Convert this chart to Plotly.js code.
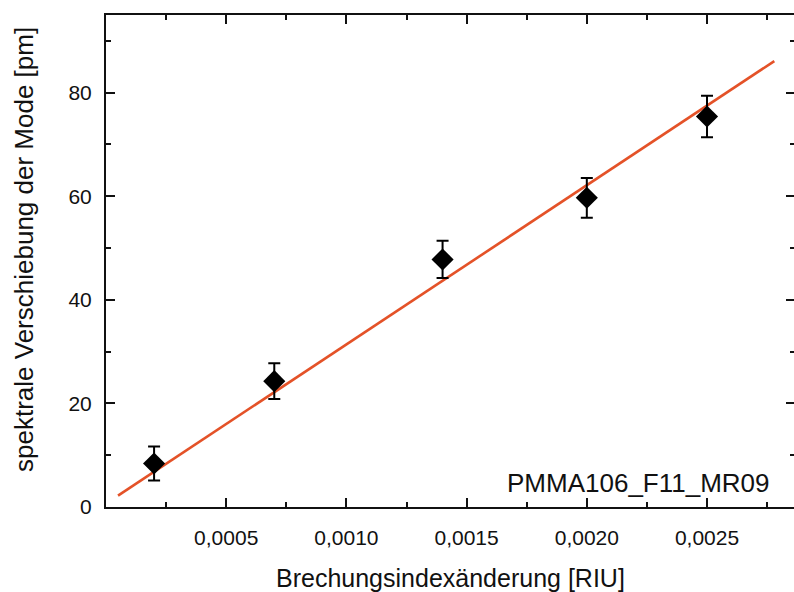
<!DOCTYPE html>
<html>
<head>
<meta charset="utf-8">
<script src="https://cdn.plot.ly/plotly-3.0.1.min.js"></script>
<style>
  html, body { margin: 0; padding: 0; background: #ffffff; overflow: hidden; }
  #chart { width: 797px; height: 592px; }
</style>
</head>
<body>
<div id="chart"></div>
<script>
// Measured mode shift versus refractive index change
const deltaN   = [0.0002, 0.0007, 0.0014, 0.0020, 0.0025];
const shiftPm  = [8.4, 24.3, 47.8, 59.7, 75.4];
const shiftErr = [3.3, 3.45, 3.6, 3.85, 4.0];

// Linear fit, drawn between its two end points
const fitX = [0.00005, 0.00278];
const fitY = [2.2, 86.1];

const xTickVals = [0.0005, 0.0010, 0.0015, 0.0020, 0.0025];
const xTickText = ['0,0005', '0,0010', '0,0015', '0,0020', '0,0025'];
const yTickVals = [0, 20, 40, 60, 80];
const yTickText = ['0', '20', '40', '60', '80'];

const sampleLabel = 'PMMA106_F11_MR09';
const xTitle = 'Brechungsindexänderung [RIU]';
const yTitle = 'spektrale Verschiebung der Mode [pm]';

const font = 'Liberation Sans, Arial, Helvetica, sans-serif';
const ink = '#111111';

const traces = [
  {
    x: fitX, y: fitY,
    type: 'scatter', mode: 'lines',
    line: { color: 'rgb(228,82,40)', width: 2.6 },
    hoverinfo: 'skip', showlegend: false
  },
  {
    x: deltaN, y: shiftPm,
    type: 'scatter', mode: 'markers',
    marker: { symbol: 'diamond', size: 17, color: '#000000' },
    error_y: { type: 'data', array: shiftErr, visible: true,
               color: '#000000', thickness: 2, width: 6 },
    showlegend: false
  }
];

const axisCommon = {
  showgrid: false, zeroline: false,
  showline: true, linecolor: ink, linewidth: 2,
  mirror: 'allticks',
  ticks: 'inside', ticklen: 9, tickwidth: 2, tickcolor: ink,
  tickfont: { family: font, size: 21, color: ink },
  tickmode: 'array'
};

const layout = {
  width: 797, height: 592,
  margin: { l: 106, r: 2, t: 15, b: 85 },
  paper_bgcolor: '#ffffff', plot_bgcolor: '#ffffff',
  separators: ', ',
  xaxis: Object.assign({}, axisCommon, {
    range: [0, 0.002866],
    tickvals: xTickVals, ticktext: xTickText,
    ticklabelstandoff: 11,
    minor: { dtick: 0.00025, tick0: 0, ticks: 'inside', ticklen: 5, tickwidth: 2, tickcolor: ink }
  }),
  yaxis: Object.assign({}, axisCommon, {
    range: [0, 95],
    tickvals: yTickVals, ticktext: yTickText,
    ticklabelstandoff: 8,
    minor: { dtick: 10, tick0: 0, ticks: 'inside', ticklen: 5, tickwidth: 2, tickcolor: ink }
  }),
  annotations: [
    {
      text: sampleLabel, xref: 'paper', yref: 'paper',
      x: 0.966, y: 0.049, xanchor: 'right', yanchor: 'middle',
      showarrow: false, font: { family: font, size: 26, color: ink }
    },
    {
      text: xTitle, xref: 'paper', yref: 'paper',
      x: 0.5, y: -0.1443, xanchor: 'center', yanchor: 'middle',
      showarrow: false, font: { family: font, size: 25, color: ink }
    },
    {
      text: yTitle, xref: 'paper', yref: 'paper', textangle: -90,
      x: -0.119, y: 0.5224, xanchor: 'center', yanchor: 'middle',
      showarrow: false, font: { family: font, size: 26, color: ink }
    }
  ]
};

Plotly.newPlot('chart', traces, layout, { staticPlot: true, displayModeBar: false });
</script>
</body>
</html>
